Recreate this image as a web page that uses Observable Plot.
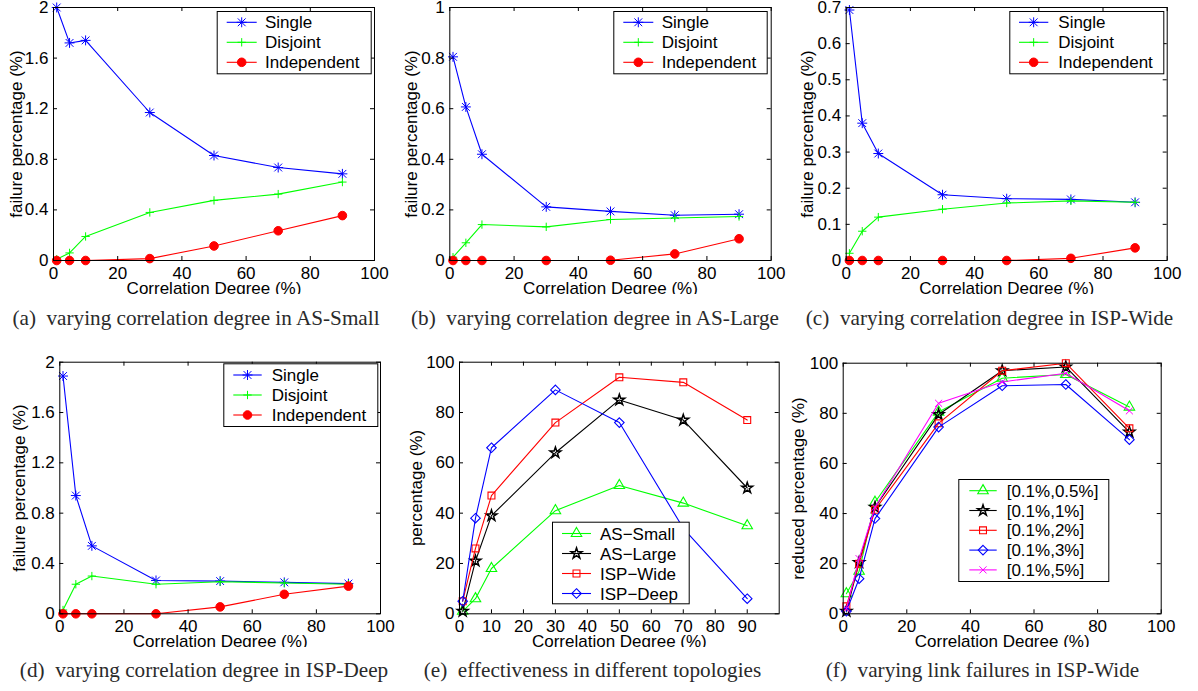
<!DOCTYPE html>
<html><head><meta charset="utf-8">
<script src="https://cdn.jsdelivr.net/npm/d3@7"></script>
<script src="https://cdn.jsdelivr.net/npm/@observablehq/plot@0.6"></script>
<style>
html,body{margin:0;padding:0;background:#fff;}
#page{position:relative;width:1198px;height:691px;overflow:hidden;background:#fff;}
.panel{position:absolute;}
.panel svg{overflow:hidden;display:block;}
#overlay{position:absolute;left:0;top:0;pointer-events:none;}
</style></head><body><div id="page"></div>
<script>
// ---------------- data ----------------
const degrees = [1, 5, 10, 30, 50, 70, 90];
const methodNames = ["Single", "Disjoint", "Independent"];
const asSmallSingle = [2.0, 1.72, 1.74, 1.17, 0.83, 0.735, 0.685];
const asSmallDisjoint = [0.01, 0.06, 0.19, 0.38, 0.475, 0.525, 0.62];
const asSmallIndependent = [0, 0, 0, 0.015, 0.115, 0.235, 0.355];
const asLargeSingle = [0.805, 0.607, 0.42, 0.212, 0.194, 0.179, 0.183];
const asLargeDisjoint = [0.013, 0.07, 0.142, 0.133, 0.162, 0.168, 0.174];
const asLargeIndependent = [0, 0, 0, 0, 0.001, 0.026, 0.086];
const ispWideSingle = [0.693, 0.38, 0.296, 0.182, 0.171, 0.169, 0.161];
const ispWideDisjoint = [0.02, 0.081, 0.12, 0.142, 0.159, 0.165, 0.161];
const ispWideIndependent = [0, 0, 0, 0, 0, 0.006, 0.035];
const ispDeepSingle = [1.89, 0.94, 0.54, 0.265, 0.26, 0.25, 0.24];
const ispDeepDisjoint = [0.03, 0.235, 0.30, 0.235, 0.255, 0.245, 0.235];
const ispDeepIndependent = [0, 0, 0, 0, 0.055, 0.155, 0.22];
const topologyNames = ["AS\u2212Small", "AS\u2212Large", "ISP\u2212Wide", "ISP\u2212Deep"];
const effAsSmall = [1, 6, 18, 41, 51, 44, 35];
const effAsLarge = [1, 21, 39, 64, 85, 77, 50];
const effIspWide = [5, 26, 47, 76, 94, 92, 77];
const effIspDeep = [5, 38, 66, 89, 76, 34, 6];
const rangeNames = ["[0.1%,0.5%]", "[0.1%,1%]", "[0.1%,2%]", "[0.1%,3%]", "[0.1%,5%]"];
const reduced05 = [8, 17, 44.5, 80.5, 94, 95.5, 82.5];
const reduced1 = [1, 20.5, 42.5, 79.5, 97, 98.5, 72.5];
const reduced2 = [3, 20, 41.5, 76, 97, 100, 74];
const reduced3 = [1, 14, 38, 74.5, 91, 91.5, 69.5];
const reduced5 = [2, 22, 42.5, 84, 92.5, 96, 81];
const xTicks100 = [0, 20, 40, 60, 80, 100];
const xTicks90 = [0, 10, 20, 30, 40, 50, 60, 70, 80, 90];
const yTicksTwo = [0, 0.4, 0.8, 1.2, 1.6, 2];
const yTicksOne = [0, 0.2, 0.4, 0.6, 0.8, 1];
const yTicksSeven = [0, 0.1, 0.2, 0.3, 0.4, 0.5, 0.6, 0.7];
const yTicksPct = [0, 20, 40, 60, 80, 100];
const xLabel = "Correlation Degree (%)";
const captions = [
  "(a)  varying correlation degree in AS-Small",
  "(b)  varying correlation degree in AS-Large",
  "(c)  varying correlation degree in ISP-Wide",
  "(d)  varying correlation degree in ISP-Deep",
  "(e)  effectiveness in different topologies",
  "(f)  varying link failures in ISP-Wide"
];

// ---------------- styles ----------------
const FONT = "'Liberation Sans', Arial, Helvetica, sans-serif";
const SERIF = "'Liberation Serif', 'Times New Roman', serif";
const style = {
  single: {color: "#0000ff", markers: [{symbol: "plus", r: 3.3, sw: 1}, {symbol: "times", r: 3.63, sw: 1}], filled: false},
  disjoint: {color: "#00ff00", markers: [{symbol: "plus", r: 2.8, sw: 1}], filled: false},
  independent: {color: "#ff0000", markers: [{symbol: "circle", r: 4.3, sw: 1}], filled: true},
  tri: {color: "#00ff00", markers: [{symbol: "triangle", r: 3.9, sw: 1.1}], filled: false},
  star: {color: "#000000", markers: [{symbol: "star", r: 3.4, sw: 1.5}], filled: false},
  sq: {color: "#ff0000", markers: [{symbol: "square", r: 3.9, sw: 1.1}], filled: false},
  dia: {color: "#0000ff", markers: [{symbol: "diamond2", r: 4.3, sw: 1.1}], filled: false},
  ex: {color: "#ff00ff", markers: [{symbol: "times", r: 3.3, sw: 1}], filled: false}
};

const page = document.getElementById("page");
const fmt = d => String(d);

function panel(cfg) {
  const {left, top, width, height, frame, xDomain, yDomain, xTicks, yTicks, yLabel, yLabelDx, series} = cfg;
  const [fx0, fy0, fx1, fy1] = frame;
  const innerW = fx1 - fx0, innerH = fy1 - fy0;
  const marks = [];
  for (const s of series) {
    const data = degrees.map((d, i) => ({x: d, y: s.values[i]}));
    marks.push(Plot.line(data, {x: "x", y: "y", stroke: s.style.color, strokeWidth: 1.1}));
    for (const m of s.style.markers) {
      marks.push(Plot.dot(data, {x: "x", y: "y", symbol: m.symbol, r: m.r, stroke: s.style.color,
        fill: s.style.filled ? s.style.color : "none", strokeWidth: m.sw}));
    }
  }
  const tl = 4;
  marks.push(
    Plot.tickX(xTicks, {x: d => d, stroke: "black", insetTop: innerH - tl}),
    Plot.tickX(xTicks, {x: d => d, stroke: "black", insetBottom: innerH - tl}),
    Plot.tickY(yTicks, {y: d => d, stroke: "black", insetRight: innerW - tl}),
    Plot.tickY(yTicks, {y: d => d, stroke: "black", insetLeft: innerW - tl}),
    Plot.axisX(xTicks, {tickSize: 0, tickPadding: 6, label: null, tickFormat: fmt}),
    Plot.axisY(yTicks, {tickSize: 0, tickPadding: 5, label: null, tickFormat: fmt}),
    Plot.text([xLabel], {frameAnchor: "bottom", dy: 33.5, lineAnchor: "bottom", fontSize: 17, fill: "black"}),
    Plot.text([yLabel], {frameAnchor: "left", dx: yLabelDx, rotate: -90, lineAnchor: "bottom", textAnchor: "middle", fontSize: 17, fill: "black"}),
    Plot.frame({stroke: "black", strokeWidth: 1})
  );
  const svg = Plot.plot({
    width, height,
    marginLeft: fx0 - left, marginRight: left + width - fx1,
    marginTop: fy0 - top, marginBottom: top + height - fy1,
    x: {domain: xDomain},
    y: {domain: yDomain},
    style: {fontFamily: FONT, fontSize: "17px", color: "black", background: "transparent", overflow: "hidden"},
    marks
  });
  const div = document.createElement("div");
  div.className = "panel";
  div.style.left = left + "px";
  div.style.top = top + "px";
  div.style.width = width + "px";
  div.style.height = height + "px";
  div.style.overflow = "hidden";
  div.appendChild(svg);
  page.appendChild(div);
}

panel({left: 0, top: 0, width: 396, height: 293.5, frame: [53, 7, 374, 260],
  xDomain: [0, 100], yDomain: [0, 2], xTicks: xTicks100, yTicks: yTicksTwo,
  yLabel: "failure percentage (%)", yLabelDx: -32,
  series: [{values: asSmallSingle, style: style.single}, {values: asSmallDisjoint, style: style.disjoint}, {values: asSmallIndependent, style: style.independent}]});
panel({left: 397, top: 0, width: 396, height: 293.5, frame: [449.3, 7, 770.7, 260],
  xDomain: [0, 100], yDomain: [0, 1], xTicks: xTicks100, yTicks: yTicksOne,
  yLabel: "failure percentage (%)", yLabelDx: -33,
  series: [{values: asLargeSingle, style: style.single}, {values: asLargeDisjoint, style: style.disjoint}, {values: asLargeIndependent, style: style.independent}]});
panel({left: 794, top: 0, width: 404, height: 293.5, frame: [845.7, 7, 1166.7, 260],
  xDomain: [0, 100], yDomain: [0, 0.7], xTicks: xTicks100, yTicks: yTicksSeven,
  yLabel: "failure percentage (%)", yLabelDx: -33,
  series: [{values: ispWideSingle, style: style.single}, {values: ispWideDisjoint, style: style.disjoint}, {values: ispWideIndependent, style: style.independent}]});
panel({left: 0, top: 340, width: 396, height: 306.5, frame: [59.3, 361.7, 380, 613.3],
  xDomain: [0, 100], yDomain: [0, 2], xTicks: xTicks100, yTicks: yTicksTwo,
  yLabel: "failure percentage (%)", yLabelDx: -35,
  series: [{values: ispDeepSingle, style: style.single}, {values: ispDeepDisjoint, style: style.disjoint}, {values: ispDeepIndependent, style: style.independent}]});
panel({left: 397, top: 340, width: 388, height: 306.5, frame: [459, 361.7, 778.7, 613.3],
  xDomain: [0, 100], yDomain: [0, 100], xTicks: xTicks90, yTicks: yTicksPct,
  yLabel: "percentage (%)", yLabelDx: -38,
  series: [{values: effAsSmall, style: style.tri}, {values: effAsLarge, style: style.star}, {values: effIspWide, style: style.sq}, {values: effIspDeep, style: style.dia}]});
panel({left: 785, top: 340, width: 413, height: 306.5, frame: [842.7, 362.7, 1160.7, 613.3],
  xDomain: [0, 100], yDomain: [0, 100], xTicks: xTicks100, yTicks: yTicksPct,
  yLabel: "reduced percentage (%)", yLabelDx: -39,
  series: [{values: reduced05, style: style.tri}, {values: reduced1, style: style.star}, {values: reduced2, style: style.sq}, {values: reduced3, style: style.dia}, {values: reduced5, style: style.ex}]});

// ---------------- legends & captions overlay ----------------
const overlay = d3.select(page).append("svg").attr("id", "overlay").attr("width", 1198).attr("height", 691);
const symbolMap = {plus: d3.symbolPlus, times: d3.symbolTimes, circle: d3.symbolCircle, triangle: d3.symbolTriangle,
  star: d3.symbolStar, square: d3.symbolSquare, diamond2: d3.symbolDiamond2};

function legend(box, row0, rowStep, lineX0, lineX1, textX, names, styles) {
  const g = overlay.append("g");
  g.append("rect").attr("x", box[0] + 0.5).attr("y", box[1] + 0.5).attr("width", box[2] - box[0]).attr("height", box[3] - box[1])
    .attr("fill", "white").attr("stroke", "black").attr("stroke-width", 1);
  names.forEach((name, i) => {
    const y = row0 + i * rowStep, st = styles[i], mx = (lineX0 + lineX1) / 2;
    g.append("line").attr("x1", lineX0).attr("x2", lineX1).attr("y1", y).attr("y2", y).attr("stroke", st.color).attr("stroke-width", 1.1);
    for (const m of st.markers) {
      g.append("path").attr("d", d3.symbol(symbolMap[m.symbol], m.r * m.r * Math.PI)())
        .attr("transform", `translate(${mx},${y})`).attr("stroke", st.color).attr("stroke-width", m.sw)
        .attr("fill", st.filled ? st.color : "none");
    }
    g.append("text").attr("x", textX).attr("y", y).attr("dy", "0.36em").attr("font-family", FONT).attr("font-size", 17)
      .attr("fill", "black").text(name);
  });
}
const methodStyles = [style.single, style.disjoint, style.independent];
legend([216.7, 11, 370.7, 73.3], 22.3, 20, 226.7, 256.7, 265, methodNames, methodStyles);
legend([613.3, 11, 766.7, 73.3], 22.3, 20, 623.3, 653.3, 661.7, methodNames, methodStyles);
legend([1009.3, 11, 1163.3, 73.3], 22.3, 20, 1019, 1048.3, 1058.3, methodNames, methodStyles);
legend([223.3, 363.3, 377.3, 426], 375, 20, 233.3, 261.7, 271.7, methodNames, methodStyles);
legend([552, 521.7, 688.7, 603.3], 533.5, 20, 562, 591, 600, topologyNames, [style.tri, style.star, style.sq, style.dia]);
legend([958.3, 479, 1108.3, 581], 490.7, 19.8, 969.3, 996.7, 1006.7, rangeNames, [style.tri, style.star, style.sq, style.dia, style.ex]);

const capPos = [[196, 325], [595, 325], [989.5, 325], [204, 676.7], [592.5, 676.7], [982.5, 676.7]];
captions.forEach((c, i) => {
  overlay.append("text").attr("x", capPos[i][0]).attr("y", capPos[i][1]).attr("text-anchor", "middle")
    .attr("font-family", SERIF).attr("font-size", 21.2).attr("fill", "#2a2a2a").style("white-space", "pre").text(c);
});
</script></body></html>
